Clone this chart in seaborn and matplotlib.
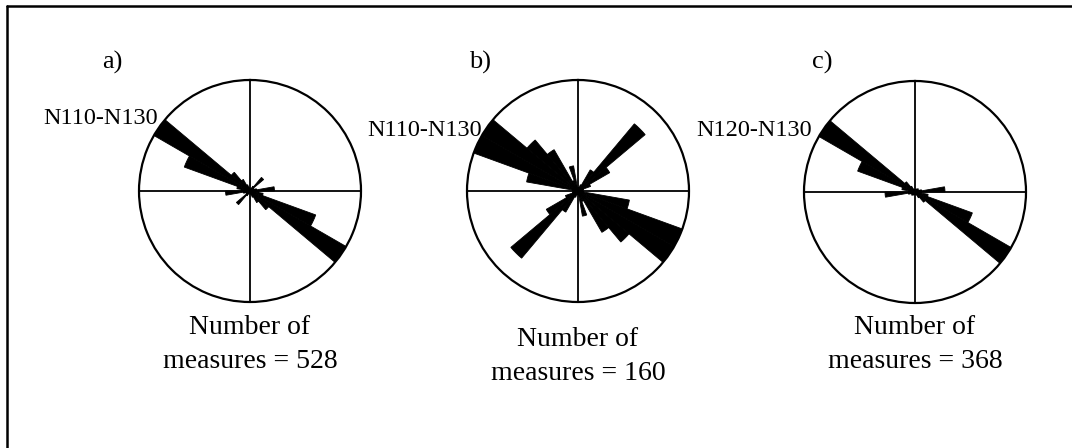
import numpy as np
import matplotlib
matplotlib.use("Agg")
import matplotlib.pyplot as plt
import seaborn as sns
from matplotlib.lines import Line2D

# strike classes (start of each 10 degree bin, N0 -> N170)
strike_bins = [0, 10, 20, 30, 40, 50, 60, 70, 80, 90, 100, 110, 120, 130, 140, 150, 160, 170]

# relative frequency per bin (longest petal = 1)
freq_a = [0.0, 0.0, 0.03, 0.05, 0.16, 0.04, 0.04, 0.06, 0.22, 0.08, 0.12, 0.63, 1.0, 0.22, 0.12, 0.06, 0.03, 0.0]
freq_b = [0.03, 0.03, 0.06, 0.22, 0.79, 0.33, 0.12, 0.05, 0.04, 0.05, 0.47, 1.0, 1.0, 0.6, 0.43, 0.1, 0.23, 0.03]
freq_c = [0.02, 0.02, 0.03, 0.03, 0.04, 0.03, 0.04, 0.06, 0.27, 0.06, 0.12, 0.55, 1.0, 0.12, 0.06, 0.03, 0.02, 0.02]

panel_labels = ["a)", "b)", "c)"]
mode_labels = ["N110-N130", "N110-N130", "N120-N130"]
n_measures = [528, 160, 368]

sns.set_theme(style="white")
plt.rcParams['font.family'] = ['Liberation Serif', 'DejaVu Serif']

W, H = 1072, 448
fig = plt.figure(figsize=(W / 100, H / 100), dpi=100)
fig.patch.set_facecolor('white')

# pixel layout of the three roses
centers = [(250, 191), (578, 191), (915, 192)]
radius = 111
panel_pos = [(112, 62), (480, 62), (822, 62)]
mode_pos = [(101, 118), (425, 130), (754, 130)]
count_y = [(328, 361), (340, 373), (328, 361)]


def draw_rose(ax, freqs):
    theta = np.deg2rad(np.array(strike_bins) + 5)
    theta = np.concatenate([theta, theta + np.pi])
    r = np.concatenate([freqs, freqs])
    ax.bar(theta, r, width=np.deg2rad(10), bottom=0, color='black',
           edgecolor='black', linewidth=0.6, zorder=2)
    ax.set_theta_zero_location('N')
    ax.set_theta_direction(-1)
    ax.set_ylim(0, 1)
    ax.set_xticks(np.deg2rad([0, 90, 180, 270]))
    ax.set_xticklabels([])
    ax.set_yticks([])
    ax.xaxis.grid(True, color='black', linewidth=1.3)
    ax.yaxis.grid(False)
    ax.spines['polar'].set_color('black')
    ax.spines['polar'].set_linewidth(1.6)
    ax.set_facecolor('none')


for i, freqs in enumerate([freq_a, freq_b, freq_c]):
    cx, cy = centers[i]
    rect = [(cx - radius) / W, (H - cy - radius) / H, 2 * radius / W, 2 * radius / H]
    ax = fig.add_axes(rect, projection='polar')
    draw_rose(ax, freqs)

    px, py = panel_pos[i]
    fig.text(px / W, 1 - py / H, panel_labels[i], ha='center', va='center', fontsize=19, color='black')
    mx, my = mode_pos[i]
    fig.text(mx / W, 1 - my / H, mode_labels[i], ha='center', va='center', fontsize=17.5, color='black')
    y1, y2 = count_y[i]
    fig.text(cx / W, 1 - y1 / H, "Number of", ha='center', va='center', fontsize=20, color='black')
    fig.text(cx / W, 1 - y2 / H, f"measures = {n_measures[i]}", ha='center', va='center',
             fontsize=20, color='black')

# frame (top and left edges only visible)
fig.add_artist(Line2D([7 / W, 1], [1 - 6 / H, 1 - 6 / H], transform=fig.transFigure, color='black', lw=1.8))
fig.add_artist(Line2D([7 / W, 7 / W], [0, 1 - 6 / H], transform=fig.transFigure, color='black', lw=1.8))

fig.savefig('out.png', dpi=100)
